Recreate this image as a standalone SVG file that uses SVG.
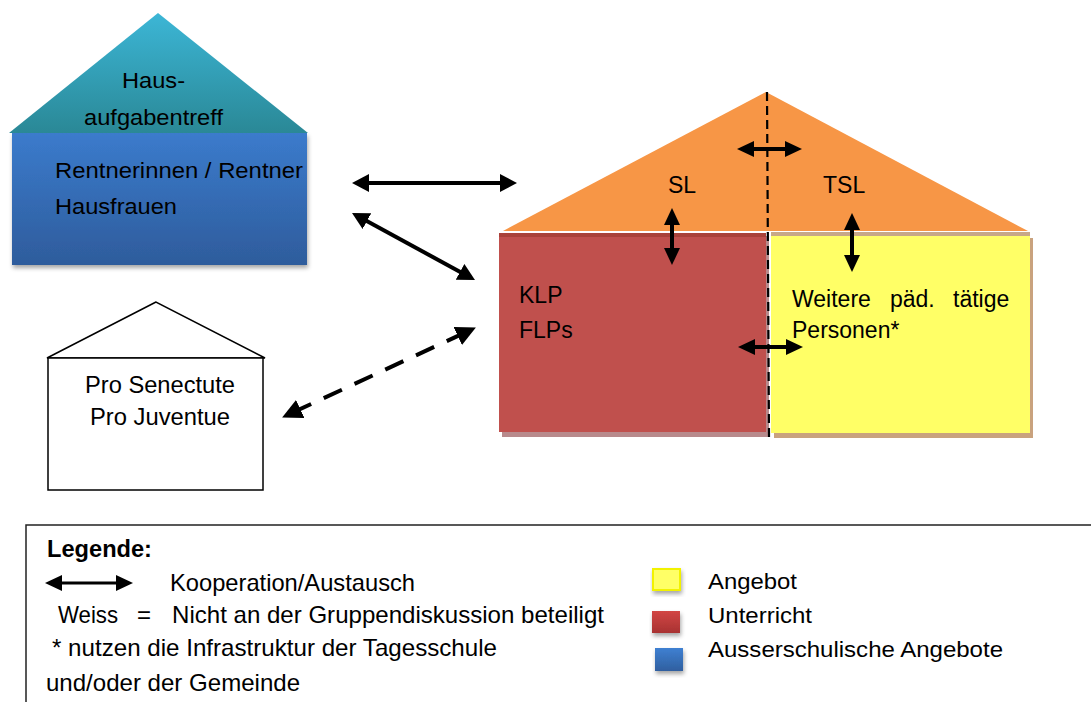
<svg xmlns="http://www.w3.org/2000/svg" width="1091" height="702" viewBox="0 0 1091 702">
<style>
text{font-family:"Liberation Sans",Arial,sans-serif;fill:#000}
.t{font-size:22px}
.m{font-size:23px}
.lg{font-size:22px}
.ln{font-size:24px}
.arr{stroke:#000;stroke-width:4;fill:none}
</style>
<defs>
<linearGradient id="teal" x1="0" y1="0" x2="0" y2="1"><stop offset="0" stop-color="#3cb6d6"/><stop offset="1" stop-color="#2a8896"/></linearGradient>
<linearGradient id="blue" x1="0" y1="0" x2="0" y2="1"><stop offset="0" stop-color="#3b7bcc"/><stop offset="1" stop-color="#2e5c9c"/></linearGradient>
<linearGradient id="lred" x1="0" y1="0" x2="0" y2="1"><stop offset="0" stop-color="#d24644"/><stop offset="1" stop-color="#a83232"/></linearGradient>
<linearGradient id="lblue" x1="0" y1="0" x2="0" y2="1"><stop offset="0" stop-color="#3f80d2"/><stop offset="1" stop-color="#2f5f9f"/></linearGradient>
<filter id="sh" x="-10%" y="-10%" width="130%" height="140%"><feDropShadow dx="1" dy="3" stdDeviation="2" flood-color="#000" flood-opacity="0.35"/></filter>
<marker id="ah" viewBox="0 0 17 18" refX="7" refY="9" markerWidth="17" markerHeight="18" markerUnits="userSpaceOnUse" orient="auto-start-reverse"><path d="M0,0 L17,9 L0,18 Z" fill="#000"/></marker>
<marker id="ahd" viewBox="0 0 20 20" refX="8" refY="10" markerWidth="20" markerHeight="20" markerUnits="userSpaceOnUse" orient="auto-start-reverse"><path d="M0,0 L20,10 L0,20 Z" fill="#000"/></marker>
<marker id="ahs" viewBox="0 0 17 16" refX="7" refY="8" markerWidth="17" markerHeight="16" markerUnits="userSpaceOnUse" orient="auto-start-reverse"><path d="M0,0 L17,8 L0,16 Z" fill="#000"/></marker>
</defs>
<rect width="1091" height="702" fill="#fff"/>

<g id="hausaufgabentreff">
<rect x="12" y="133" width="295" height="132" fill="url(#blue)" filter="url(#sh)"/>
<polygon points="158,13 9,133 308,133" fill="url(#teal)"/>
<text class="t" x="122" y="88" textLength="63" lengthAdjust="spacingAndGlyphs">Haus-</text>
<text class="t" x="84" y="125" textLength="139" lengthAdjust="spacingAndGlyphs">aufgabentreff</text>
<text class="t" x="55" y="178" textLength="248" lengthAdjust="spacingAndGlyphs">Rentnerinnen / Rentner</text>
<text class="t" x="55" y="214" textLength="122" lengthAdjust="spacingAndGlyphs">Hausfrauen</text>
</g>

<g id="pro">
<polygon points="156,302 47,358 265,358" fill="#fff" stroke="#000" stroke-width="1.5" stroke-linejoin="miter"/>
<rect x="48" y="358" width="215" height="132" fill="#fff" stroke="#000" stroke-width="1.5"/>
<text class="m" x="85" y="393" textLength="150" lengthAdjust="spacingAndGlyphs">Pro Senectute</text>
<text class="m" x="90" y="425" textLength="140" lengthAdjust="spacingAndGlyphs">Pro Juventue</text>
</g>

<g id="schule">
<rect x="502" y="236" width="267" height="201" fill="#b88a8c"/>
<rect x="499" y="233" width="267" height="199" fill="#c0504d"/>
<rect x="499" y="233" width="267" height="4" fill="#a9423a"/>
<rect x="774" y="238" width="259" height="200" fill="#c9a27e"/>
<rect x="771" y="235" width="259" height="198" fill="#ffff66"/>
<rect x="771" y="232" width="259" height="4" fill="#c8a888"/>
<polygon points="766,92 503,231 1028,231" fill="#f79646"/>
<text class="m" x="668" y="193">SL</text>
<text class="m" x="823" y="193">TSL</text>
<text class="m" x="519" y="303">KLP</text>
<text class="m" x="519" y="338">FLPs</text>
<text class="m" x="792" y="307">Weitere</text>
<text class="m" x="890" y="307">päd.</text>
<text class="m" x="953" y="307">tätige</text>
<text class="m" x="792" y="338">Personen*</text>
</g>

<g id="connectors">
<line x1="767" y1="92" x2="769" y2="437" stroke="#000" stroke-width="2.2" stroke-dasharray="9 5"/>
<line class="arr" x1="362" y1="183" x2="507" y2="183" marker-start="url(#ah)" marker-end="url(#ah)"/>
<line class="arr" x1="360.8" y1="217.8" x2="466.2" y2="275.2" marker-start="url(#ah)" marker-end="url(#ah)"/>
<line class="arr" x1="293" y1="412.4" x2="465" y2="332.6" stroke-width="6" stroke-dasharray="20 13.9" marker-start="url(#ahd)" marker-end="url(#ahd)"/>
<line class="arr" x1="747" y1="149" x2="792" y2="149" marker-start="url(#ahs)" marker-end="url(#ahs)"/>
<line class="arr" x1="672" y1="218" x2="672" y2="255" marker-start="url(#ahs)" marker-end="url(#ahs)"/>
<line class="arr" x1="852" y1="223" x2="852" y2="262" marker-start="url(#ahs)" marker-end="url(#ahs)"/>
<line class="arr" x1="748" y1="347" x2="793" y2="347" marker-start="url(#ahs)" marker-end="url(#ahs)"/>
</g>

<g id="legende">
<rect x="26" y="525" width="1080" height="200" fill="none" stroke="#222" stroke-width="1.5"/>
<text class="ln" x="47" y="557" font-weight="bold" textLength="105" lengthAdjust="spacingAndGlyphs">Legende:</text>
<line x1="55" y1="583" x2="123" y2="583" stroke="#000" stroke-width="3" marker-start="url(#ahs)" marker-end="url(#ahs)"/>
<text class="ln" x="170" y="591" textLength="245" lengthAdjust="spacingAndGlyphs">Kooperation/Austausch</text>
<text class="ln" x="58" y="623" textLength="60" lengthAdjust="spacingAndGlyphs">Weiss</text>
<text class="ln" x="137" y="623">=</text>
<text class="ln" x="172" y="623" textLength="432" lengthAdjust="spacingAndGlyphs">Nicht an der Gruppendiskussion beteiligt</text>
<text class="ln" x="52" y="656" textLength="445" lengthAdjust="spacingAndGlyphs">* nutzen die Infrastruktur der Tagesschule</text>
<text class="ln" x="46" y="691" textLength="254" lengthAdjust="spacingAndGlyphs">und/oder der Gemeinde</text>
<rect x="653" y="569" width="27" height="21" fill="#ffff66" stroke="#f2f200" stroke-width="2" filter="url(#sh)"/>
<rect x="652" y="611" width="28" height="22" fill="url(#lred)" filter="url(#sh)"/>
<rect x="655" y="648" width="28" height="23" fill="url(#lblue)" filter="url(#sh)"/>
<text class="lg" x="708" y="589" textLength="89" lengthAdjust="spacingAndGlyphs">Angebot</text>
<text class="lg" x="708" y="623" textLength="104" lengthAdjust="spacingAndGlyphs">Unterricht</text>
<text class="lg" x="708" y="657" textLength="295" lengthAdjust="spacingAndGlyphs">Ausserschulische Angebote</text>
</g>
</svg>
